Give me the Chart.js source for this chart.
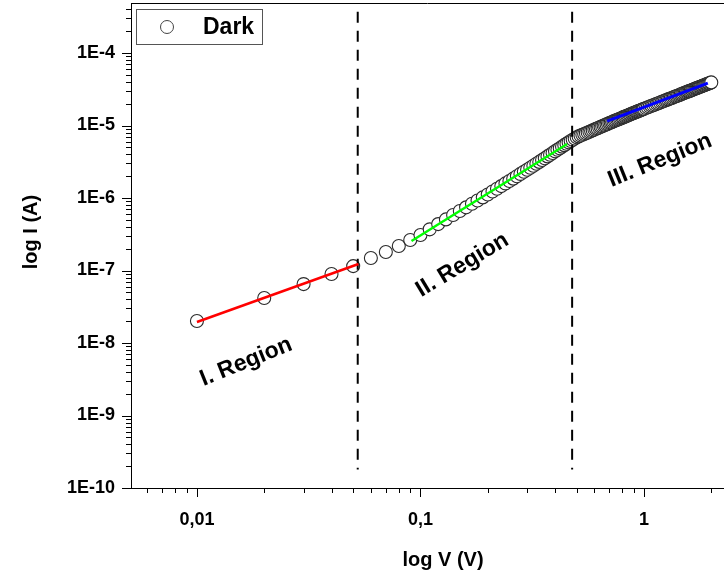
<!DOCTYPE html>
<html>
<head>
<meta charset="utf-8">
<script src="https://cdn.jsdelivr.net/npm/chart.js@4.4.0/dist/chart.umd.min.js"></script>
<style>
  html, body { margin: 0; padding: 0; background: #fff; }
  #chart { display: block; }
</style>
</head>
<body>
<canvas id="chart" width="724" height="570"></canvas>
<script>
// measured I-V points (dark)
const voltage = [
  0.01, 0.02, 0.03, 0.04, 0.05, 0.06, 0.07, 0.08, 0.09, 0.10,
  0.11, 0.12, 0.13, 0.14, 0.15, 0.16, 0.17, 0.18, 0.19, 0.20,
  0.21, 0.22, 0.23, 0.24, 0.25, 0.26, 0.27, 0.28, 0.29, 0.30,
  0.31, 0.32, 0.33, 0.34, 0.35, 0.36, 0.37, 0.38, 0.39, 0.40,
  0.41, 0.42, 0.43, 0.44, 0.45, 0.46, 0.47, 0.48, 0.49, 0.50,
  0.51, 0.52, 0.53, 0.54, 0.55, 0.56, 0.57, 0.58, 0.59, 0.60,
  0.61, 0.62, 0.63, 0.64, 0.65, 0.66, 0.67, 0.68, 0.69, 0.70,
  0.71, 0.72, 0.73, 0.74, 0.75, 0.76, 0.77, 0.78, 0.79, 0.80,
  0.81, 0.82, 0.83, 0.84, 0.85, 0.86, 0.87, 0.88, 0.89, 0.90,
  0.91, 0.92, 0.93, 0.94, 0.95, 0.96, 0.97, 0.98, 0.99, 1.00,
  1.02, 1.04, 1.06, 1.08, 1.10, 1.12, 1.14, 1.16, 1.18, 1.20,
  1.22, 1.24, 1.26, 1.28, 1.30, 1.32, 1.34, 1.36, 1.38, 1.40,
  1.42, 1.44, 1.46, 1.48, 1.50, 1.52, 1.54, 1.56, 1.58, 1.60,
  1.62, 1.64, 1.66, 1.68, 1.70, 1.72, 1.74, 1.76, 1.78, 1.80,
  1.82, 1.84, 1.86, 1.88, 1.90, 1.92, 1.94, 1.96, 1.98, 2.00
];
const current = [
  2.01e-8, 4.18e-8, 6.50e-8, 8.95e-8, 1.15e-7, 1.49e-7, 1.80e-7, 2.18e-7, 2.63e-7, 3.09e-7,
  3.70e-7, 4.37e-7, 5.07e-7, 5.82e-7, 6.61e-7, 7.44e-7, 8.32e-7, 9.25e-7, 1.02e-6, 1.12e-6,
  1.23e-6, 1.34e-6, 1.46e-6, 1.59e-6, 1.72e-6, 1.85e-6, 2.00e-6, 2.15e-6, 2.30e-6, 2.46e-6,
  2.62e-6, 2.79e-6, 2.97e-6, 3.15e-6, 3.34e-6, 3.54e-6, 3.75e-6, 3.96e-6, 4.18e-6, 4.41e-6,
  4.63e-6, 4.87e-6, 5.11e-6, 5.36e-6, 5.61e-6, 5.86e-6, 6.11e-6, 6.37e-6, 6.63e-6, 6.90e-6,
  7.08e-6, 7.27e-6, 7.45e-6, 7.64e-6, 7.83e-6, 8.02e-6, 8.21e-6, 8.40e-6, 8.60e-6, 8.79e-6,
  8.99e-6, 9.18e-6, 9.38e-6, 9.58e-6, 9.78e-6, 9.99e-6, 1.019e-5, 1.040e-5, 1.060e-5, 1.081e-5,
  1.101e-5, 1.121e-5, 1.141e-5, 1.161e-5, 1.181e-5, 1.201e-5, 1.222e-5, 1.242e-5, 1.263e-5, 1.284e-5,
  1.304e-5, 1.325e-5, 1.345e-5, 1.366e-5, 1.387e-5, 1.408e-5, 1.429e-5, 1.450e-5, 1.471e-5, 1.492e-5,
  1.512e-5, 1.533e-5, 1.554e-5, 1.574e-5, 1.595e-5, 1.615e-5, 1.636e-5, 1.657e-5, 1.678e-5, 1.699e-5,
  1.741e-5, 1.783e-5, 1.824e-5, 1.866e-5, 1.908e-5, 1.950e-5, 1.992e-5, 2.034e-5, 2.077e-5, 2.120e-5,
  2.162e-5, 2.205e-5, 2.249e-5, 2.292e-5, 2.335e-5, 2.379e-5, 2.422e-5, 2.466e-5, 2.510e-5, 2.554e-5,
  2.598e-5, 2.643e-5, 2.687e-5, 2.732e-5, 2.777e-5, 2.822e-5, 2.867e-5, 2.912e-5, 2.957e-5, 3.002e-5,
  3.048e-5, 3.094e-5, 3.139e-5, 3.185e-5, 3.231e-5, 3.277e-5, 3.323e-5, 3.370e-5, 3.416e-5, 3.462e-5,
  3.509e-5, 3.556e-5, 3.602e-5, 3.649e-5, 3.696e-5, 3.743e-5, 3.790e-5, 3.838e-5, 3.885e-5, 3.933e-5
];

// linear fits per region (end points)
const fit1V = [0.01, 0.0528];
const fit1I = [1.95e-8, 1.23e-7];
const fit2V = [0.0912, 0.453];
const fit2I = [2.55e-7, 5.56e-6];
const fit3V = [0.684, 1.93];
const fit3I = [1.15e-5, 3.85e-5];

// region borders (dashed)
const boundaryV = [0.0524, 0.477];
const boundaryI = [3.7e-4, 1.8e-10];

const regionText = ['I. Region', 'II. Region', 'III. Region'];
const regionV = [0.0166, 0.154, 1.18];
const regionI = [5.5e-9, 1.19e-7, 3.3e-6];
const regionAngle = [-22, -31, -22];

const seriesName = 'Dark';
const xTickValues = [0.01, 0.1, 1];
const xTickLabels = ['0,01', '0,1', '1'];
const yTickValues = [1e-10, 1e-9, 1e-8, 1e-7, 1e-6, 1e-5, 1e-4];
const yTickLabels = ['1E-10', '1E-9', '1E-8', '1E-7', '1E-6', '1E-5', '1E-4'];

const FONT = "'Liberation Sans', Arial, sans-serif";

function toPoints(xs, ys) {
  return xs.map((x, i) => ({ x: x, y: ys[i] }));
}

function minorTicks(majors, lo, hi) {
  const out = [];
  const decades = [majors[0] / 10].concat(majors);
  decades.forEach(d => {
    for (let m = 2; m <= 9; m++) {
      const v = d * m;
      if (v >= lo && v <= hi) out.push(v);
    }
  });
  return out;
}

const decor = {
  id: 'decor',
  afterDraw(chart) {
    const ctx = chart.ctx;
    const area = chart.chartArea;
    const xs = chart.scales.x;
    const ys = chart.scales.y;

    ctx.save();
    ctx.strokeStyle = '#000';
    ctx.lineWidth = 1;

    // top frame
    ctx.beginPath();
    ctx.moveTo(area.left, area.top + 0.5);
    ctx.lineTo(area.right, area.top + 0.5);
    ctx.stroke();

    // ticks
    const drawX = (v, len) => {
      const px = Math.round(xs.getPixelForValue(v)) + 0.5;
      ctx.beginPath();
      ctx.moveTo(px, area.bottom);
      ctx.lineTo(px, area.bottom + len);
      ctx.stroke();
    };
    const drawY = (v, len) => {
      const py = Math.round(ys.getPixelForValue(v)) + 0.5;
      ctx.beginPath();
      ctx.moveTo(area.left, py);
      ctx.lineTo(area.left - len, py);
      ctx.stroke();
    };
    xTickValues.forEach(v => drawX(v, 9));
    minorTicks(xTickValues, xs.min, xs.max).forEach(v => drawX(v, 5));
    yTickValues.forEach(v => drawY(v, 9));
    minorTicks(yTickValues, ys.min, ys.max).forEach(v => drawY(v, 5));

    // region labels
    ctx.fillStyle = '#000';
    ctx.font = 'bold 23px ' + FONT;
    ctx.textAlign = 'center';
    ctx.textBaseline = 'middle';
    regionText.forEach((t, i) => {
      ctx.save();
      ctx.translate(xs.getPixelForValue(regionV[i]), ys.getPixelForValue(regionI[i]));
      ctx.rotate(regionAngle[i] * Math.PI / 180);
      ctx.fillText(t, 0, 0);
      ctx.restore();
    });

    // axis titles
    ctx.font = 'bold 20px ' + FONT;
    ctx.fillText('log V (V)', 443, 560);
    ctx.save();
    ctx.translate(31, 232);
    ctx.rotate(-Math.PI / 2);
    ctx.fillText('log I (A)', 0, 0);
    ctx.restore();

    // legend box
    const lx = area.left + 5, ly = area.top + 6;
    ctx.fillStyle = '#fff';
    ctx.fillRect(lx, ly, 126, 35);
    ctx.strokeStyle = '#555';
    ctx.strokeRect(lx + 0.5, ly + 0.5, 126, 35);
    ctx.beginPath();
    ctx.arc(lx + 31, ly + 18, 6.5, 0, Math.PI * 2);
    ctx.strokeStyle = '#444';
    ctx.stroke();
    ctx.fillStyle = '#000';
    ctx.font = 'bold 23px ' + FONT;
    ctx.textAlign = 'left';
    ctx.fillText(seriesName, lx + 67, ly + 19);
    ctx.restore();
  }
};

new Chart(document.getElementById('chart'), {
  type: 'scatter',
  data: {
    datasets: [
      {
        label: seriesName,
        data: toPoints(voltage, current),
        pointStyle: 'circle',
        pointRadius: 6.5,
        pointBorderWidth: 1.1,
        borderColor: '#2a2a2a',
        backgroundColor: '#fff',
        order: 3
      },
      {
        label: 'fit I',
        data: toPoints(fit1V, fit1I),
        showLine: true,
        pointRadius: 0,
        borderColor: '#ff0000',
        borderWidth: 2.5,
        order: 1
      },
      {
        label: 'fit II',
        data: toPoints(fit2V, fit2I),
        showLine: true,
        pointRadius: 0,
        borderColor: '#00ff00',
        borderWidth: 2.5,
        order: 1
      },
      {
        label: 'fit III',
        data: toPoints(fit3V, fit3I),
        showLine: true,
        pointRadius: 0,
        borderColor: '#0000ff',
        borderWidth: 3,
        order: 1
      },
      {
        label: 'border 1',
        data: toPoints([boundaryV[0], boundaryV[0]], boundaryI),
        showLine: true,
        pointRadius: 0,
        borderColor: '#000',
        borderWidth: 2,
        borderDash: [11, 8],
        order: 2
      },
      {
        label: 'border 2',
        data: toPoints([boundaryV[1], boundaryV[1]], boundaryI),
        showLine: true,
        pointRadius: 0,
        borderColor: '#000',
        borderWidth: 2,
        borderDash: [11, 8],
        order: 2
      }
    ]
  },
  options: {
    responsive: false,
    animation: false,
    devicePixelRatio: 1,
    layout: { autoPadding: false, padding: { top: 3, right: 0, left: 0, bottom: 0 } },
    plugins: {
      legend: { display: false },
      tooltip: { enabled: false }
    },
    scales: {
      x: {
        type: 'logarithmic',
        min: 0.00507,
        max: 2.28,
        afterFit: s => { s.height = 82; s.paddingLeft = 0; s.paddingRight = 0; },
        afterBuildTicks: s => { s.ticks = xTickValues.map(v => ({ value: v })); },
        grid: { display: false },
        border: { display: true, color: '#000', width: 1 },
        ticks: {
          autoSkip: false,
          maxRotation: 0,
          padding: 13,
          color: '#000',
          font: { family: FONT, size: 18, weight: 'bold' },
          callback: (v, i) => xTickLabels[i]
        }
      },
      y: {
        type: 'logarithmic',
        min: 1e-10,
        max: 4.9e-4,
        afterFit: s => { s.width = 131; s.paddingTop = 0; s.paddingBottom = 0; },
        afterBuildTicks: s => { s.ticks = yTickValues.map(v => ({ value: v })); },
        grid: { display: false },
        border: { display: true, color: '#000', width: 1 },
        ticks: {
          autoSkip: false,
          padding: 8,
          color: '#000',
          font: { family: FONT, size: 18, weight: 'bold' },
          callback: (v, i) => yTickLabels[i]
        }
      }
    }
  },
  plugins: [decor]
});
</script>
</body>
</html>
